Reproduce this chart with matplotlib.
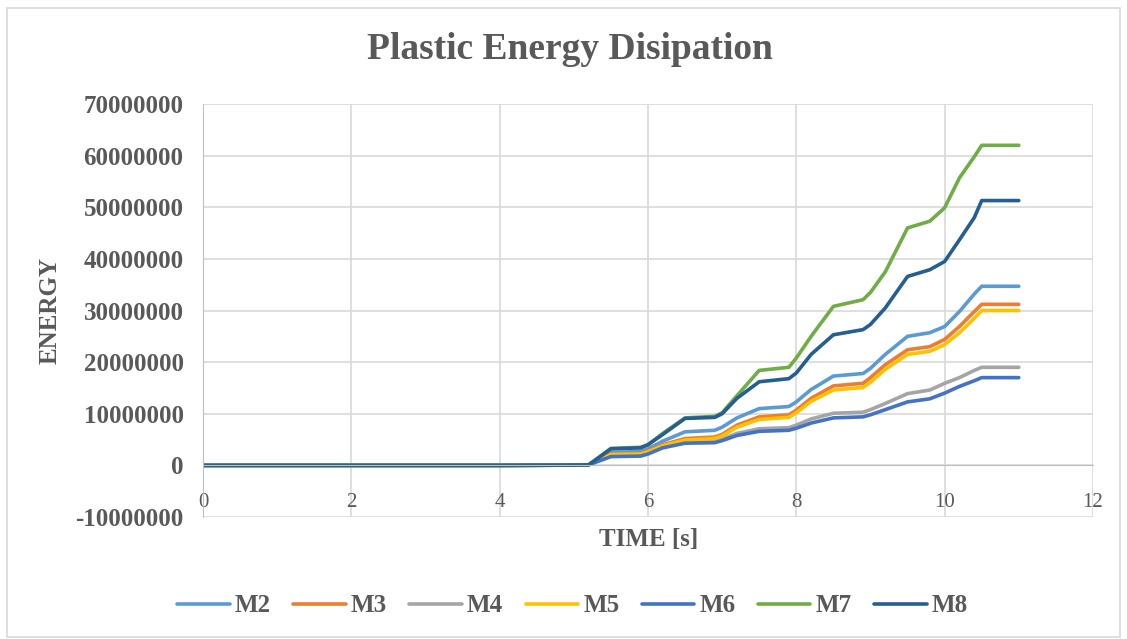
import matplotlib
matplotlib.use("Agg")
import matplotlib.pyplot as plt
from matplotlib.patches import Rectangle

# time [s] and plastic energy (millions) per model
time = [0, 1, 2, 3, 4, 5, 5.2, 5.5, 5.9, 6.0, 6.2, 6.5, 6.9, 7.0, 7.2, 7.5,
        7.9, 8.0, 8.2, 8.5, 8.9, 9.0, 9.2, 9.5, 9.8, 10.0, 10.2, 10.4, 10.5, 11.0]

m2 = [0, 0, 0, 0, 0, 0.05, 0.1, 2.5, 2.7, 3.2, 4.7, 6.5, 6.8, 7.4, 9.2, 11.0, 11.4,
      12.3, 14.7, 17.3, 17.8, 18.8, 21.5, 25.0, 25.7, 26.9, 29.8, 33.2, 34.7, 34.7]
m3 = [0, 0, 0, 0, 0, 0.05, 0.1, 2.2, 2.3, 2.8, 4.0, 5.2, 5.5, 6.0, 7.8, 9.4, 9.8,
      10.7, 13.0, 15.4, 15.9, 17.0, 19.5, 22.4, 23.0, 24.4, 26.9, 29.8, 31.2, 31.2]
m4 = [0, 0, 0, 0, 0, 0.05, 0.1, 1.9, 2.0, 2.4, 3.6, 4.6, 4.7, 5.1, 6.2, 7.1, 7.3,
      7.8, 9.0, 10.1, 10.3, 10.8, 12.0, 13.9, 14.6, 15.9, 17.0, 18.4, 19.0, 19.0]
m5 = [0, 0, 0, 0, 0, 0.05, 0.1, 2.1, 2.2, 2.6, 3.8, 4.9, 5.2, 5.7, 7.4, 8.9, 9.3,
      10.2, 12.4, 14.6, 15.1, 16.1, 18.6, 21.5, 22.1, 23.4, 25.7, 28.5, 30.0, 30.0]
m6 = [0, 0, 0, 0, 0, 0.05, 0.1, 1.7, 1.8, 2.2, 3.4, 4.3, 4.4, 4.8, 5.8, 6.6, 6.8,
      7.2, 8.2, 9.2, 9.4, 9.8, 10.8, 12.3, 12.9, 14.0, 15.3, 16.4, 17.0, 17.0]
m7 = [0, 0, 0, 0, 0, 0.05, 0.1, 3.3, 3.5, 4.0, 6.2, 9.2, 9.5, 10.2, 13.5, 18.4, 19.0,
      20.8, 25.0, 30.8, 32.1, 33.5, 37.5, 46.0, 47.3, 49.9, 55.7, 59.8, 62.0, 62.0]
m8 = [0, 0, 0, 0, 0, 0.05, 0.1, 3.2, 3.4, 4.0, 6.0, 9.1, 9.3, 10.0, 13.0, 16.2, 16.8,
      17.9, 21.5, 25.3, 26.3, 27.3, 30.5, 36.6, 37.9, 39.5, 43.7, 48.0, 51.3, 51.3]

labels = ["M2", "M3", "M4", "M5", "M6", "M7", "M8"]
series = [m2, m3, m4, m5, m6, m7, m8]
colors = ["#5B9BD5", "#ED7D31", "#A5A5A5", "#FFC000", "#4472C4", "#70AD47", "#255E91"]

plt.rcParams['font.family'] = ['Liberation Serif', 'DejaVu Serif']
text_color = '#595959'

fig = plt.figure(figsize=(11.27, 6.39), dpi=100)
ax = fig.add_axes([0.1801, 0.1909, 0.7897, 0.6463])

for lab, vals, col in zip(labels, series, colors):
    ax.plot(time, [v * 1e6 for v in vals], color=col, linewidth=2.6, label=lab,
            solid_capstyle='round', solid_joinstyle='round')

ax.set_xlim(0, 12)
ax.set_ylim(-10000000, 70000000)
ax.set_xticks(range(0, 13, 2))
ax.set_yticks(range(-10000000, 70000001, 10000000))
ax.set_yticklabels([str(v) for v in range(-10000000, 70000001, 10000000)])

ax.grid(True, color='#D9D9D9', linewidth=1.2)
ax.set_axisbelow(True)
for s in ['top', 'right']:
    ax.spines[s].set_visible(False)
ax.spines['left'].set_color('#BFBFBF')
ax.spines['bottom'].set_color('#BFBFBF')
ax.spines['bottom'].set_position(('data', 0))
ax.tick_params(length=0)
ax.tick_params(axis='y', labelsize=18, labelcolor=text_color, pad=14)
ax.tick_params(axis='x', labelsize=15, labelcolor=text_color, pad=20)
for t in ax.get_yticklabels():
    t.set_fontweight('bold')

fig.text(0.506, 0.922, 'Plastic Energy Disipation', fontsize=27, fontweight='bold',
         color=text_color, ha='center', va='center')
ax.set_ylabel('ENERGY', fontsize=18, fontweight='bold', color=text_color, labelpad=10)
fig.text(0.5755, 0.155, 'TIME [s]', fontsize=18, fontweight='bold',
         color=text_color, ha='center', va='center')

leg = fig.legend(loc='center', bbox_to_anchor=(0.508, 0.052), ncol=7, frameon=False,
                 fontsize=18, handlelength=2.1, columnspacing=0.9, handletextpad=0.2)
for t in leg.get_texts():
    t.set_fontweight('bold')
    t.set_color(text_color)

fig.patches.append(Rectangle((0.006, 0.003), 0.988, 0.985, transform=fig.transFigure,
                             fill=False, edgecolor='#D9D9D9', linewidth=1.2))

fig.savefig('out.png', dpi=100)
